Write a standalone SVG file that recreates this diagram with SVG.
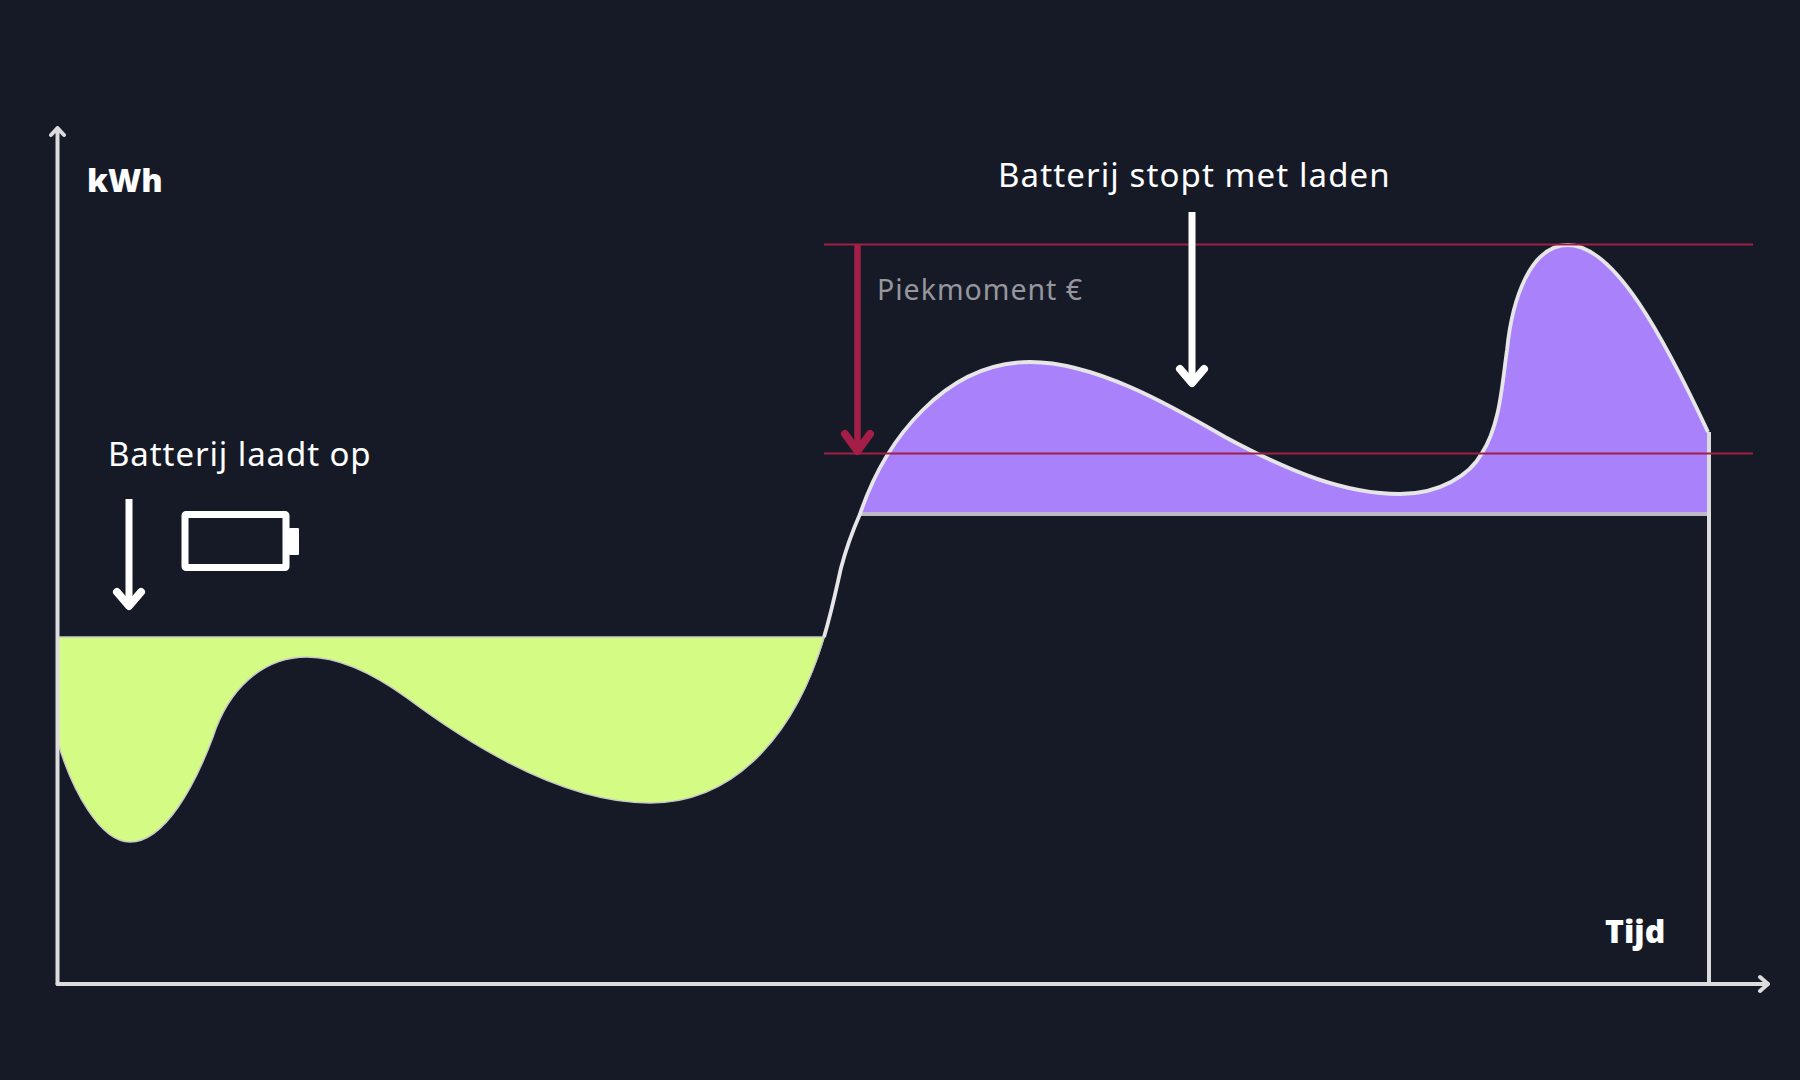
<svg xmlns="http://www.w3.org/2000/svg" width="1800" height="1080" viewBox="0 0 1800 1080">
<style>
.lbl{font-family:"Noto Sans","Open Sans",sans-serif;fill:#fff;font-size:33px;letter-spacing:.9px}
.bold{font-family:"Open Sans","Noto Sans",sans-serif;font-weight:800;fill:#fff;font-size:32px}
.axis{fill:none;stroke:#dcdcde;stroke-width:4;stroke-linecap:round;stroke-linejoin:round}
.arr{fill:none;stroke:#fff;stroke-width:7}
.head{fill:none;stroke:#fff;stroke-width:8;stroke-linecap:round;stroke-linejoin:round}
.red{stroke:#a01f47;stroke-width:2;fill:none}
</style>
<rect width="1800" height="1080" fill="#161a27"/>
<g id="area-green">
<path d="M58 637H825C797 730 738 803 650 803C563 803 470 745 407 698C385 682 345 657 307 657C262 657 228 690 213 737C195 785 165 842 130 842C100 842 72 790 58 743Z" fill="#d4fb84"/>
<path d="M58 637H825M58 743C72 790 100 842 130 842C165 842 195 785 213 737C228 690 262 657 307 657C345 657 385 682 407 698C470 745 563 803 650 803C738 803 797 730 824 637" fill="none" stroke="#c9cbc8" stroke-width="1.500"/>
</g>
<g id="area-purple">
<path d="M860 514C885 440 945 362 1030 362C1095 362 1170 405 1225 437C1290 472 1345 494 1400 494C1440 494 1470 475 1482 453C1500 425 1502 385 1507 350C1512 300 1530 245 1568 245C1615 245 1665 340 1708 432V514Z" fill="#a981fa"/>
<path d="M860 514H1709" fill="none" stroke="#bdbac6" stroke-width="4"/>
<path d="M824 637C832 610 836 590 841 568C847 545 853 530 860 514C885 440 945 362 1030 362C1095 362 1170 405 1225 437C1290 472 1345 494 1400 494C1440 494 1470 475 1482 453C1500 425 1502 385 1507 350C1512 300 1530 245 1568 245C1615 245 1665 340 1708 432" fill="none" stroke="#e6e6e8" stroke-width="3.800"/>
</g>
<g id="connectors">
<path class="axis" d="M57.500 984V128M51 135L57.500 128L64 135"/>
<path class="axis" d="M57.500 984H1767M1760 977L1768 984L1760 991"/>
<path d="M1709 432V984" fill="none" stroke="#dcdcde" stroke-width="4"/>
<path class="red" d="M824 244.500H1753M824 453.500H1753"/>
<path d="M857.500 244V450" fill="none" stroke="#a51e48" stroke-width="6.500"/>
<path d="M845 434L857.500 451L870 434" fill="none" stroke="#a51e48" stroke-width="8" stroke-linecap="round" stroke-linejoin="round"/>
<path class="arr" d="M129 499V604"/>
<path class="head" d="M117 592L129 606L141 592"/>
<path class="arr" d="M1192 212V382"/>
<path class="head" d="M1180 369L1192 383L1204 369"/>
</g>
<g id="battery">
<rect x="185" y="514.500" width="101" height="53" fill="none" stroke="#fff" stroke-width="7" rx="1"/>
<rect x="289" y="528" width="10" height="27" fill="#fff" rx="1"/>
</g>
<g id="label-kwh"><text class="bold" x="87" y="192">kWh</text></g>
<g id="label-tijd"><text class="bold" x="1605" y="943">Tijd</text></g>
<g id="label-laadt"><text class="lbl" x="108" y="466">Batterij laadt op</text></g>
<g id="label-stopt"><text class="lbl" x="998" y="187" style="letter-spacing:1.100px">Batterij stopt met laden</text></g>
<g id="label-piek"><text class="lbl" x="877" y="300" style="font-size:28.500px;fill:#96979d;letter-spacing:1px">Piekmoment €</text></g>
</svg>
